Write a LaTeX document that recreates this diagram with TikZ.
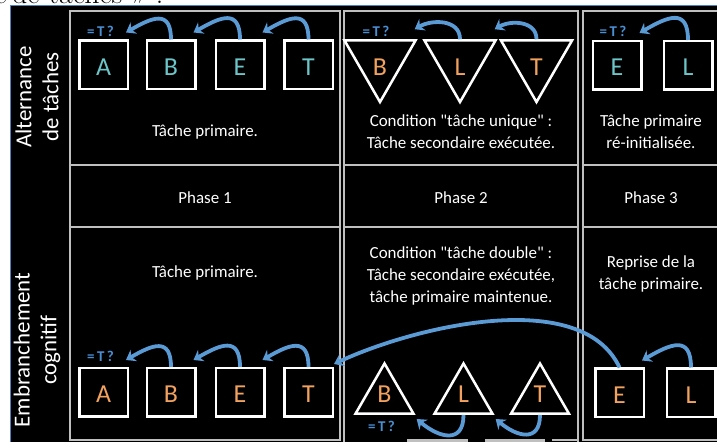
\documentclass[tikz,border=0pt]{standalone}
\usepackage{fontspec}
\usepackage{tikz}
\usepackage{xcolor}
\newfontfamily\calibri{Carlito}
\usetikzlibrary{arrows.meta,shapes.geometric,calc,positioning}

\definecolor{arrowblue}{HTML}{5B9BD5}
\definecolor{labelblue}{HTML}{4A8FD4}
\definecolor{primteal}{HTML}{6CC5C8}
\definecolor{secorange}{HTML}{F2A25E}
\definecolor{gridgray}{HTML}{BFBFBF}
\definecolor{frameblue}{HTML}{4F81BD}

\newcommand{\tcheck}{=\hspace{2.5bp}T\hspace{2.5bp}?}

\begin{document}
\begin{tikzpicture}[x=1bp, y=1bp,
    pagetext/.style={inner sep=0pt, font=\fontsize{30}{30}\selectfont},
    txt/.style={text=white, align=center, font=\calibri\fontsize{17}{22}\selectfont},
    sidelabel/.style={text=white, align=center, rotate=90, font=\calibri\fontsize{23}{27}\selectfont},
    letterbox/.style={draw=white, line width=2.5bp, minimum size=48.5bp, inner sep=0pt, text height=21bp, font=\calibri\fontsize{26}{26}\selectfont},
    prim/.style={letterbox, text=primteal},
    sec/.style={letterbox, text=secorange},
    tri/.style={regular polygon, regular polygon sides=3, draw=white, line width=2.5bp, minimum size=67bp, inner sep=0pt, text=secorange, font=\calibri\fontsize{26}{26}\selectfont},
    triup/.style={tri, text depth=6bp},
    tridown/.style={tri, shape border rotate=180, text height=29bp},
    checklabel/.style={text=labelblue, inner sep=1bp, font=\calibri\bfseries\fontsize{15}{15}\selectfont},
    backarrow/.style={arrowblue, line width=3.8bp, -{Stealth[length=9bp,width=13bp,inset=3bp]}},
    cellline/.style={gridgray, line width=1.5bp}]

    \useasboundingbox (0,0) rectangle (717,442);
    \clip (0,0) rectangle (717,442);

    % Text of the page above the figure
    \node[pagetext, anchor=base east] (pgA) at (7,438) {e};
    \node[pagetext, anchor=base west] (pgB) at (12,438) {de tâches »~:};

    % Black background
    \draw[frameblue, line width=1bp, fill=black] (10,436) rectangle (730,-10);

    % Table cells
    \draw[cellline] (70,2) rectangle (340,431);
    \draw[cellline] (344,-5) -- (344,431) -- (578,431) -- (578,-5);
    \draw[cellline] (583,2) rectangle (725,431);
    \foreach \a/\b in {70/340, 344/578, 583/725}
        \draw[cellline] (\a,277) -- (\b,277) (\a,215) -- (\b,215);
    \draw[cellline] (552,2) -- (578,2);
    \fill[gridgray] (407,-1) rectangle (468,3);
    \fill[gridgray] (485,-1) rectangle (545,3);

    % Row labels
    \node[sidelabel] (rowAlt) at (37,345) {Alternance\\de tâches};
    \node[sidelabel] (rowEmb) at (37,92) {Embranchement\\cognitif};

    % Phase labels
    \node[txt] (ph1) at (205,244) {Phase 1};
    \node[txt] (ph2) at (461,244) {Phase 2};
    \node[txt] (ph3) at (651,244) {Phase 3};

    % Cell texts
    \node[txt] (altTxtA) at (205,310) {Tâche primaire.};
    \node[txt] (altTxtB) at (461,310) {Condition "tâche unique" :\\Tâche secondaire exécutée.};
    \node[txt] (altTxtC) at (651,310) {Tâche primaire\\ré-initialisée.};
    \node[txt] (embTxtA) at (205,169) {Tâche primaire.};
    \node[txt] (embTxtB) at (461,166) {Condition "tâche double" :\\Tâche secondaire exécutée,\\tâche primaire maintenue.};
    \node[txt] (embTxtC) at (651,168) {Reprise de la\\tâche primaire.};

    % Task alternation: top row
    \node[prim] (tA) at (103.5,377) {A};
    \node[prim] (tB) at (171,377) {B};
    \node[prim] (tE) at (240,377) {E};
    \node[prim] (tT) at (308.5,377) {T};
    \node[tridown] (tB2) at (380,381) {B};
    \node[tridown] (tL2) at (460,381) {L};
    \node[tridown] (tT2) at (536.5,381) {T};
    \node[prim] (tE3) at (617,376.5) {E};
    \node[prim] (tL3) at (688,376.5) {L};

    \node[checklabel, above=2bp of tA, xshift=-3bp] (tChkA) {\tcheck};
    \node[checklabel, above=1bp of tB2, xshift=-4bp] (tChkB) {\tcheck};
    \node[checklabel, above=2bp of tE3, xshift=-4bp] (tChkC) {\tcheck};

    \draw[backarrow] (tB.north) to[out=90, in=30, looseness=1.7] ($(tA.north east)+(-3,7)$);
    \draw[backarrow] (tE.north) to[out=90, in=30, looseness=1.7] ($(tB.north east)+(-3,7)$);
    \draw[backarrow] (tT.north) to[out=90, in=30, looseness=1.7] ($(tE.north east)+(-3,7)$);
    \draw[backarrow] (tL2.north) to[out=90, in=30, looseness=1.1] ($(tB2.corner 2)+(-3,10)$);
    \draw[backarrow] (tT2.north) to[out=90, in=30, looseness=1.1] ($(tL2.corner 2)+(-3,10)$);
    \draw[backarrow] (tL3.north) to[out=90, in=30, looseness=1.7] ($(tE3.north east)+(-3,7)$);

    % Cognitive branching: bottom row
    \node[sec] (bA) at (103.5,49.5) {A};
    \node[sec] (bB) at (171,49.5) {B};
    \node[sec] (bE) at (240,49.5) {E};
    \node[sec] (bT) at (308.5,49.5) {T};
    \node[triup] (bB2) at (384.5,45) {B};
    \node[triup] (bL2) at (463.5,45) {L};
    \node[triup] (bT2) at (540,45) {T};
    \node[sec] (bE3) at (619.5,49) {E};
    \node[sec] (bL3) at (691,49) {L};

    \node[checklabel, above=4bp of bA, xshift=-3bp] (bChkA) {\tcheck};
    \node[checklabel, below=5bp of bB2, xshift=-3bp] (bChkB) {\tcheck};

    \draw[backarrow] (bB.north) to[out=90, in=30, looseness=1.7] ($(bA.north east)+(-3,7)$);
    \draw[backarrow] (bE.north) to[out=90, in=30, looseness=1.7] ($(bB.north east)+(-3,7)$);
    \draw[backarrow] (bT.north) to[out=90, in=30, looseness=1.7] ($(bE.north east)+(-3,7)$);
    \draw[backarrow] (bL2.south) to[out=-90, in=-40, looseness=1.6] ($(bB2.corner 3)+(1,-4)$);
    \draw[backarrow] (bT2.south) to[out=-90, in=-40, looseness=1.6] ($(bL2.corner 3)+(1,-4)$);
    \draw[backarrow] (bL3.north) to[out=90, in=30, looseness=1.7] ($(bE3.north east)+(-3,7)$);

    % Return to the primary task
    \draw[backarrow] (bE3.north) to[out=115, in=25, looseness=0.8] ($(bT.north east)+(0,3)$);
\end{tikzpicture}
\end{document}
